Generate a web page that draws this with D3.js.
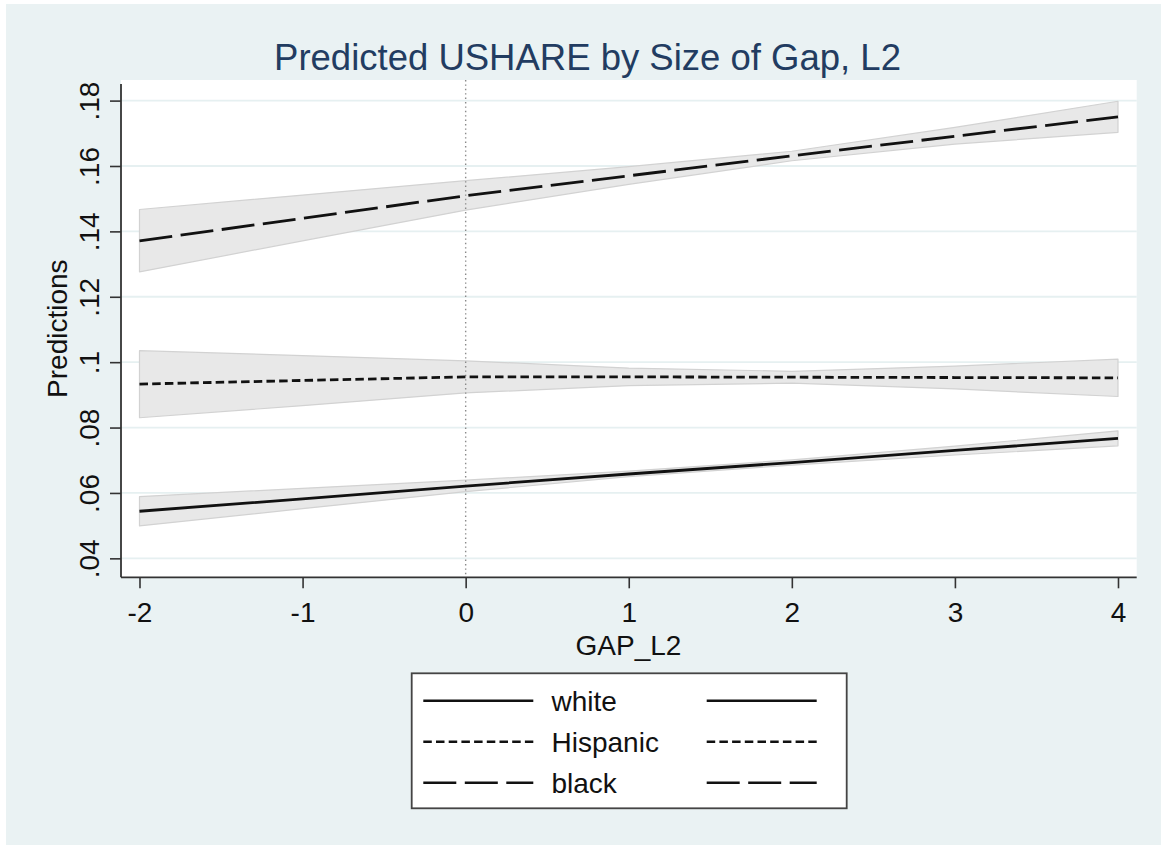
<!DOCTYPE html>
<html>
<head>
<meta charset="utf-8">
<script src="https://cdn.jsdelivr.net/npm/d3@7"></script>
<style>
  html, body { margin: 0; padding: 0; background: #ffffff; }
  svg { display: block; }
  text { font-family: "Liberation Sans", Arial, sans-serif; }
</style>
</head>
<body>
<svg id="chart" width="1161" height="845"></svg>
<script>
// ---- data ----
const xValues = [-2, -1, 0, 1, 2, 3, 4];
const whiteFit   = [0.0544, 0.0582, 0.0621, 0.0658, 0.0693, 0.0730, 0.0767];
const whiteLo    = [0.0499, 0.0552, 0.0604, 0.0650, 0.0685, 0.0716, 0.0744];
const whiteHi    = [0.0589, 0.0614, 0.0639, 0.0667, 0.0701, 0.0743, 0.0790];
const hispFit    = [0.0933, 0.0944, 0.0955, 0.0955, 0.0954, 0.0953, 0.0952];
const hispLo     = [0.0830, 0.0867, 0.0906, 0.0928, 0.0936, 0.0918, 0.0895];
const hispHi     = [0.1035, 0.1020, 0.1004, 0.0982, 0.0972, 0.0988, 0.1009];
const blackFit   = [0.1371, 0.1440, 0.1509, 0.1570, 0.1631, 0.1691, 0.1750];
const blackLo    = [0.1276, 0.1371, 0.1465, 0.1544, 0.1616, 0.1667, 0.1703];
const blackHi    = [0.1467, 0.1511, 0.1555, 0.1598, 0.1645, 0.1718, 0.1798];
const seriesNames = ["white", "Hispanic", "black"];
const yTickValues = [0.04, 0.06, 0.08, 0.10, 0.12, 0.14, 0.16, 0.18];
const yTickLabels = [".04", ".06", ".08", ".1", ".12", ".14", ".16", ".18"];
const xTickValues = [-2, -1, 0, 1, 2, 3, 4];
const xTickLabels = ["-2", "-1", "0", "1", "2", "3", "4"];
const titleText = "Predicted USHARE by Size of Gap, L2";
const xTitle = "GAP_L2";
const yTitle = "Predictions";

// ---- layout ----
const svg = d3.select("#chart");
const plotL = 121, plotR = 1136.7, plotT = 80, plotB = 577.3;
const x = d3.scaleLinear().domain([-2.1134, 4.1147]).range([plotL, plotR]);
const y = d3.scaleLinear().domain([0.0342, 0.1863]).range([plotB, plotT]);

const dashes = { "white": null, "Hispanic": "8.5,4.2", "black": "33,8.5" };
const series = [
  { name: "white", fit: whiteFit, lo: whiteLo, hi: whiteHi },
  { name: "Hispanic", fit: hispFit, lo: hispLo, hi: hispHi },
  { name: "black", fit: blackFit, lo: blackLo, hi: blackHi }
];

// outer graph region
svg.append("rect").attr("x", 6).attr("y", 4).attr("width", 1155).attr("height", 841)
  .attr("fill", "#EAF2F3");
// plot region
svg.append("rect").attr("x", plotL).attr("y", plotT)
  .attr("width", plotR - plotL).attr("height", plotB - plotT).attr("fill", "#ffffff");

// gridlines
svg.append("g").selectAll("line").data(yTickValues).join("line")
  .attr("x1", plotL).attr("x2", plotR)
  .attr("y1", d => y(d)).attr("y2", d => y(d))
  .attr("stroke", "#E6F0F1").attr("stroke-width", 1.8);

// CI bands
const area = d3.area()
  .x((d, i) => x(xValues[i]))
  .y0(d => y(d[0])).y1(d => y(d[1]));
series.forEach(s => {
  const pts = xValues.map((v, i) => [s.lo[i], s.hi[i]]);
  svg.append("path").datum(pts).attr("d", area)
    .attr("fill", "#E8E8E8").attr("stroke", "#D2D2D2").attr("stroke-width", 1.2)
    .attr("stroke-linejoin", "round");
});

// vertical reference line at 0
svg.append("line").attr("x1", x(0)).attr("x2", x(0)).attr("y1", plotT).attr("y2", plotB)
  .attr("stroke", "#8a8a8a").attr("stroke-width", 1.4).attr("stroke-dasharray", "1.4,3");

// fitted lines
const line = d3.line().x((d, i) => x(xValues[i])).y(d => y(d));
series.forEach(s => {
  svg.append("path").datum(s.fit).attr("d", line)
    .attr("fill", "none").attr("stroke", "#111111").attr("stroke-width", 2.8)
    .attr("stroke-dasharray", dashes[s.name]);
});

// axes
const yAxis = d3.axisLeft(y).tickValues(yTickValues)
  .tickFormat((d, i) => yTickLabels[i]).tickSize(11).tickPadding(6);
const gy = svg.append("g").attr("transform", `translate(${plotL},0)`).call(yAxis);
gy.select(".domain").attr("d", `M0,${plotT + 4}V${plotB}`).attr("stroke", "#333").attr("stroke-width", 1.8);
gy.selectAll(".tick line").attr("stroke", "#333").attr("stroke-width", 1.6);
gy.selectAll(".tick text")
  .attr("font-size", 28).attr("fill", "#111")
  .attr("font-family", "'Liberation Sans', Arial, sans-serif")
  .attr("text-anchor", "middle")
  .attr("x", null).attr("y", null).attr("dy", 0)
  .attr("transform", "translate(-22.5,0) rotate(-90)");

const xAxis = d3.axisBottom(x).tickValues(xTickValues)
  .tickFormat((d, i) => xTickLabels[i]).tickSize(11).tickPadding(6);
const gx = svg.append("g").attr("transform", `translate(0,${plotB})`).call(xAxis);
gx.select(".domain").attr("d", `M${plotL},0H${plotR}`).attr("stroke", "#333").attr("stroke-width", 1.8);
gx.selectAll(".tick line").attr("stroke", "#333").attr("stroke-width", 1.6);
gx.selectAll(".tick text")
  .attr("font-size", 28).attr("fill", "#111")
  .attr("font-family", "'Liberation Sans', Arial, sans-serif")
  .attr("y", 44.5).attr("dy", 0);

// titles
svg.append("text").attr("x", 587.5).attr("y", 70).attr("text-anchor", "middle")
  .attr("font-size", 36.5).attr("fill", "#223C61").text(titleText);
svg.append("text").attr("x", 628.5).attr("y", 655).attr("text-anchor", "middle")
  .attr("font-size", 28).attr("fill", "#111").text(xTitle);
svg.append("text").attr("transform", `translate(67,${(plotT + plotB) / 2}) rotate(-90)`)
  .attr("text-anchor", "middle").attr("font-size", 28).attr("fill", "#111").text(yTitle);

// legend
const lg = svg.append("g");
lg.append("rect").attr("x", 411.7).attr("y", 673.3).attr("width", 435).attr("height", 135)
  .attr("fill", "#ffffff").attr("stroke", "#444").attr("stroke-width", 1.8);
const rowY = d3.scalePoint().domain(seriesNames).range([700.7, 782.7]);
seriesNames.forEach(name => {
  const yy = rowY(name);
  [[423.3, 533.3], [706.7, 816.7]].forEach(([a, b]) => {
    lg.append("line").attr("x1", a).attr("x2", b).attr("y1", yy).attr("y2", yy)
      .attr("stroke", "#111").attr("stroke-width", 2.6)
      .attr("stroke-dasharray", dashes[name]);
  });
  lg.append("text").attr("x", 551.5).attr("y", yy + 10).attr("font-size", 28)
    .attr("fill", "#111").text(name);
});
</script>
</body>
</html>
